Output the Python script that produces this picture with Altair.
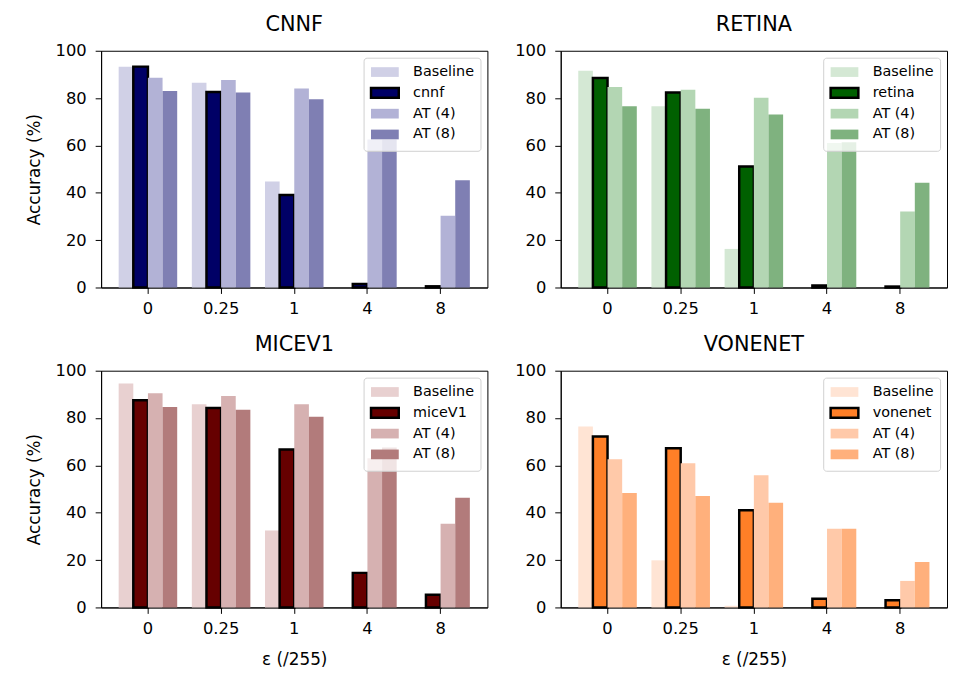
import altair as alt
import pandas as pd

eps_labels = ["0", "0.25", "1", "4", "8"]
y_ticks = [0, 20, 40, 60, 80, 100]

cnnf_baseline = [93.3, 86.5, 44.8, 0.0, 0.0]
cnnf_model = [93.3, 82.6, 39.1, 1.5, 0.5]
cnnf_at4 = [88.6, 87.6, 84.1, 62.5, 30.3]
cnnf_at8 = [83.0, 82.4, 79.5, 62.5, 45.3]

retina_baseline = [91.6, 76.6, 16.3, 0.0, 0.0]
retina_model = [88.5, 82.4, 51.1, 0.8, 0.4]
retina_at4 = [84.7, 83.5, 80.1, 61.0, 32.1]
retina_at8 = [76.6, 75.5, 73.1, 61.4, 44.2]

micev1_baseline = [94.6, 85.8, 32.5, 0.0, 0.0]
micev1_model = [87.5, 84.2, 66.7, 14.6, 5.4]
micev1_at4 = [90.5, 89.3, 85.8, 63.0, 35.4]
micev1_at8 = [84.7, 83.5, 80.6, 67.6, 46.3]

vonenet_baseline = [76.4, 19.9, 0.7, 0.0, 0.0]
vonenet_model = [72.2, 67.2, 41.1, 3.7, 3.0]
vonenet_at4 = [62.6, 60.9, 55.8, 33.2, 11.2]
vonenet_at8 = [48.3, 47.1, 44.2, 33.2, 19.2]

FONT = "DejaVu Sans"


def panel(title, model_name, vals, colors, y_title, x_title):
    series = ["Baseline", model_name, "AT (4)", "AT (8)"]
    rows = []
    for s, v in zip(series, vals):
        for e, val in zip(eps_labels, v):
            rows.append({"eps": e, "series": s, "acc": val})
    df = pd.DataFrame(rows)
    leg = alt.Legend(
        title=None, orient="top-right", offset=7,
        fillColor="rgba(255,255,255,0.8)", strokeColor="#d0d0d0",
        cornerRadius=3, padding=6,
        symbolType="M-1,-0.7L3,-0.7L3,0.7L-1,0.7Z", symbolSize=196,
        symbolStrokeWidth=2.5, symbolOpacity=1,
        labelFontSize=14.5, labelFont=FONT, labelColor="black",
        rowPadding=0, labelOffset=27,
    )
    return alt.Chart(df).mark_bar(strokeWidth=2.5).encode(
        x=alt.X("eps:N", sort=eps_labels,
                scale=alt.Scale(domain=eps_labels, paddingInner=0.2, paddingOuter=0.24),
                axis=alt.Axis(title=x_title, labelAngle=0, labelPadding=7, titlePadding=15)),
        xOffset=alt.XOffset("series:N", sort=series,
                            scale=alt.Scale(domain=series, paddingInner=0, paddingOuter=0)),
        y=alt.Y("acc:Q", scale=alt.Scale(domain=[0, 100], nice=False),
                axis=alt.Axis(title=y_title, values=y_ticks, labelPadding=9, titlePadding=12)),
        color=alt.Color("series:N", sort=series,
                        scale=alt.Scale(domain=series, range=colors), legend=leg),
        stroke=alt.Stroke("series:N", sort=series,
                          scale=alt.Scale(domain=series,
                                          range=["transparent", "black", "transparent", "transparent"]),
                          legend=leg),
    ).properties(
        width=390, height=239,
        title=alt.TitleParams(title, fontSize=21, fontWeight="normal", font=FONT,
                              color="black", offset=8, anchor="middle", frame="group"),
    )


p1 = panel("CNNF", "cnnf", [cnnf_baseline, cnnf_model, cnnf_at4, cnnf_at8],
           ["#d0d0e6", "#000066", "#b2b2d6", "#7f7fb3"], "Accuracy (%)", None)
p2 = panel("RETINA", "retina", [retina_baseline, retina_model, retina_at4, retina_at8],
           ["#d4e8d4", "#006000", "#b3d6b3", "#7fb27f"], None, None)
p3 = panel("MICEV1", "miceV1", [micev1_baseline, micev1_model, micev1_at4, micev1_at8],
           ["#e8d0d0", "#660000", "#d6b1b1", "#b27b7b"], "Accuracy (%)", "ε (/255)")
p4 = panel("VONENET", "vonenet", [vonenet_baseline, vonenet_model, vonenet_at4, vonenet_at8],
           ["#ffe4d4", "#ff7f27", "#ffc9a9", "#ffb07c"], None, "ε (/255)")

res = dict(color="independent", stroke="independent", xOffset="independent")
top = alt.hconcat(p1, p2, spacing=26).resolve_scale(**res).resolve_legend(color="independent", stroke="independent")
bottom = alt.hconcat(p3, p4, spacing=26).resolve_scale(**res).resolve_legend(color="independent", stroke="independent")

chart = alt.vconcat(top, bottom, spacing=16).resolve_scale(**res).resolve_legend(
    color="independent", stroke="independent"
).properties(
    padding={"left": 17, "top": 2, "right": 0, "bottom": 0}, background="white"
).configure_view(stroke="black", strokeWidth=1).configure_axis(
    domainColor="black", tickColor="black", labelColor="black", titleColor="black",
    tickSize=6, labelFontSize=16.5, labelFont=FONT, titleFont=FONT,
    titleFontSize=17, titleFontWeight="normal", grid=False,
)

chart.save("out.html", embed_options={"renderer": "svg", "actions": False})
